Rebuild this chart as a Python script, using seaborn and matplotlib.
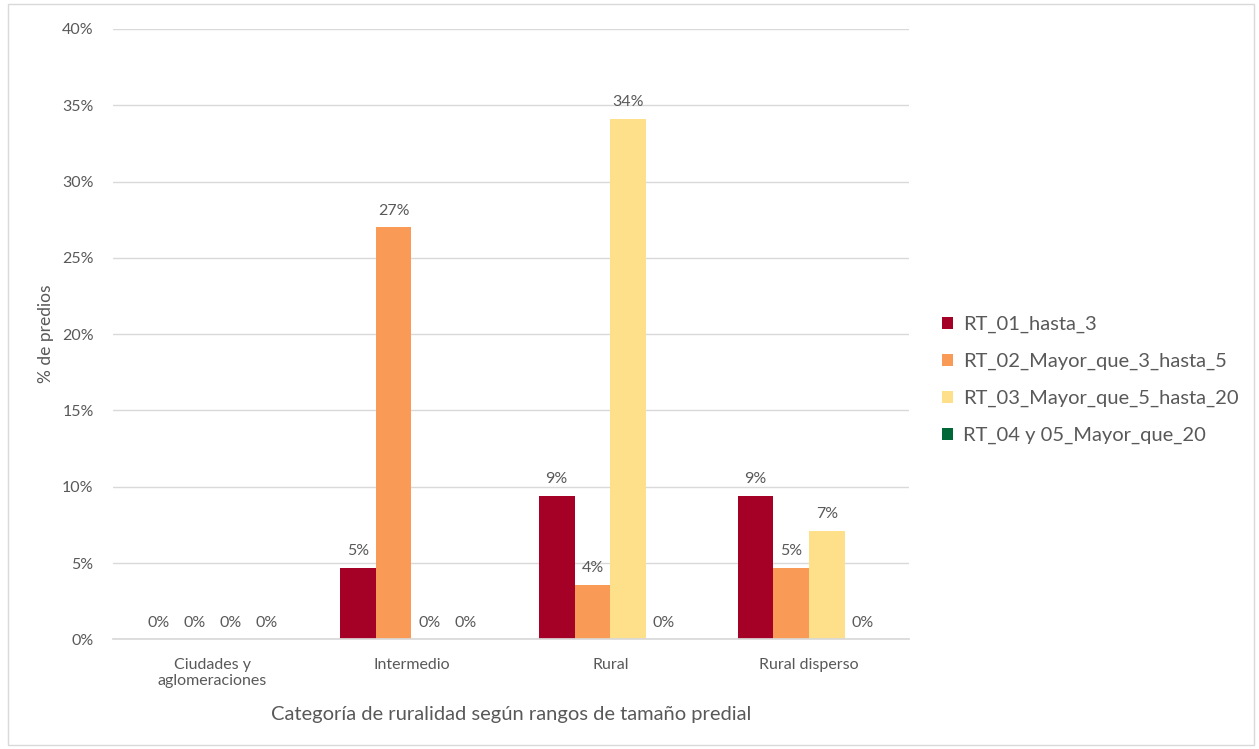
import matplotlib
matplotlib.use("Agg")
import matplotlib.pyplot as plt
import seaborn as sns
import pandas as pd
from matplotlib.patches import Rectangle, Patch
from matplotlib.ticker import FuncFormatter, MultipleLocator

categories = ["Ciudades y\naglomeraciones", "Intermedio", "Rural", "Rural disperso"]
series = ["RT_01_hasta_3", "RT_02_Mayor_que_3_hasta_5",
          "RT_03_Mayor_que_5_hasta_20", "RT_04 y 05_Mayor_que_20"]
rt01 = [0.0, 4.7, 9.4, 9.4]
rt02 = [0.0, 27.0, 3.6, 4.7]
rt03 = [0.0, 0.0, 34.1, 7.1]
rt04 = [0.0, 0.0, 0.0, 0.0]
colors = ["#A50026", "#F99A57", "#FEE08B", "#006837"]

rows = []
for s, vals in zip(series, [rt01, rt02, rt03, rt04]):
    for c, v in zip(categories, vals):
        rows.append({"cat": c, "serie": s, "val": v})
df = pd.DataFrame(rows)

sns.set_theme(style="white")
plt.rcParams["font.family"] = ["Lato", "DejaVu Sans"]

fig = plt.figure(figsize=(12.59, 7.49), dpi=100)
ax = fig.add_axes([0.0898, 0.1462, 0.632, 0.8153])

sns.barplot(data=df, x="cat", y="val", hue="serie", order=categories,
            hue_order=series, palette=colors, width=0.72, saturation=1,
            errorbar=None, ax=ax, legend=False, linewidth=0)

txtc = "#595959"
for cont, vals in zip(ax.containers, [rt01, rt02, rt03, rt04]):
    ax.bar_label(cont, labels=[f"{v:.0f}%" for v in vals], padding=7,
                 fontsize=11.5, color=txtc)

ax.set_ylim(0, 40)
ax.yaxis.set_major_locator(MultipleLocator(5))
ax.yaxis.set_major_formatter(FuncFormatter(lambda x, p: f"{x:.0f}%"))
ax.grid(axis="y", color="#D9D9D9", linewidth=1)
ax.set_axisbelow(True)
for sp in ["top", "right", "left"]:
    ax.spines[sp].set_visible(False)
ax.spines["bottom"].set_color("#D9D9D9")
ax.tick_params(axis="y", labelsize=11.5, labelcolor=txtc, length=0, pad=14)
ax.tick_params(axis="x", labelsize=11.5, labelcolor=txtc, length=0, pad=13)
ax.set_xlabel("Categoría de ruralidad según rangos de tamaño predial",
              fontsize=14.5, color=txtc, labelpad=13)
ax.set_ylabel("% de predios", fontsize=12.5, color=txtc, labelpad=6)

handles = [Patch(facecolor=c, edgecolor="none") for c in colors]
leg = ax.legend(handles, series, loc="center left", bbox_to_anchor=(1.019, 0.425),
                frameon=False, fontsize=14.5, handlelength=0.55, handleheight=0.55,
                handletextpad=0.5, labelspacing=0.98, labelcolor=txtc)

fig.patches.append(Rectangle((0.006, 0.006), 0.99, 0.988, transform=fig.transFigure,
                             fill=False, edgecolor="#D9D9D9", linewidth=1))

fig.savefig("out.png", dpi=100, facecolor="white")
